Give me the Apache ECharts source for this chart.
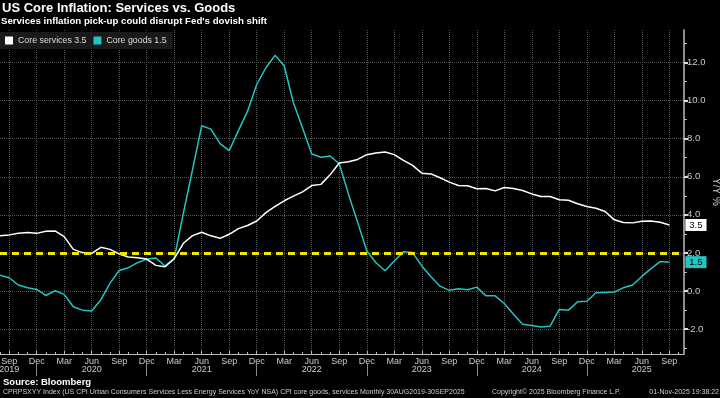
<!DOCTYPE html>
<html>
<head>
<meta charset="utf-8">
<script src="https://cdn.jsdelivr.net/npm/echarts@6/dist/echarts.min.js"></script>
<style>
html, body { margin: 0; padding: 0; background: #000; }
#chart { width: 720px; height: 398px; }
</style>
</head>
<body>
<div id="chart"></div>
<script>
// monthly data, Aug 2019 .. Sep 2025 (index 0 = Aug 2019)
const START_YEAR = 2019
const START_MONTH = 7 // August, 0-based
const MONTH_NAMES = ['Jan', 'Feb', 'Mar', 'Apr', 'May', 'Jun', 'Jul', 'Aug', 'Sep', 'Oct', 'Nov', 'Dec']

const coreServices = [2.91, 2.95, 3.03, 3.07, 3.03, 3.14, 3.16, 2.86, 2.19, 2.02, 1.98, 2.30, 2.19, 1.95, 1.79, 1.75,
  1.68, 1.35, 1.28, 1.70, 2.51, 2.91, 3.09, 2.90, 2.77, 2.98, 3.28, 3.44, 3.68, 4.12, 4.44, 4.74, 4.98, 5.21, 5.54,
  5.60, 6.10, 6.72, 6.79, 6.91, 7.16, 7.25, 7.30, 7.16, 6.86, 6.60, 6.19, 6.15, 5.95, 5.72, 5.54, 5.53, 5.37, 5.38,
  5.26, 5.44, 5.38, 5.28, 5.10, 4.96, 4.96, 4.79, 4.77, 4.58, 4.44, 4.35, 4.18, 3.74, 3.60, 3.58, 3.67, 3.68, 3.61, 3.47]

const coreGoods = [0.84, 0.70, 0.32, 0.18, 0.09, -0.23, 0.02, -0.17, -0.82, -1.00, -1.04, -0.45, 0.42, 1.08, 1.23, 1.49,
  1.68, 1.74, 1.32, 1.70, 4.09, 6.37, 8.68, 8.50, 7.74, 7.37, 8.42, 9.44, 10.84, 11.72, 12.37, 11.81, 9.88, 8.56, 7.19,
  7.02, 7.09, 6.68, 5.10, 3.62, 2.12, 1.49, 1.07, 1.58, 2.06, 2.02, 1.32, 0.75, 0.26, 0.04, 0.12, 0.07, 0.21, -0.25,
  -0.25, -0.65, -1.21, -1.74, -1.81, -1.88, -1.84, -0.96, -1.00, -0.56, -0.53, -0.09, -0.07, -0.05, 0.18, 0.32, 0.77,
  1.18, 1.55, 1.52]

const fedTarget = 2.0
const yTicks = [-2, 0, 2, 4, 6, 8, 10, 12]
const yMinorTicks = [-3, -1, 1, 3, 5, 7, 9, 11, 13]

// x axis: quarter labels, year labels (Sep 2019 then every Jun), year separators at Dec
const quarterIdx = []
const yearLabelIdx = [1]
const yearSepIdx = []
const monthIdx = []
for (let i = 0; i <= coreServices.length; i++) {
  const m = (START_MONTH + i) % 12
  monthIdx.push(i)
  if (m % 3 === 2) quarterIdx.push(i)
  if (m === 5) yearLabelIdx.push(i)
  if (m === 11) yearSepIdx.push(i)
}
const monthName = i => MONTH_NAMES[(START_MONTH + Math.round(i)) % 12]
const yearOf = i => START_YEAR + Math.floor((START_MONTH + Math.round(i)) / 12)

const FONT = 'Liberation Sans, Arial, sans-serif'
const TEAL = '#22c4c4'
const X_MAX = 74.6
const Y_MIN = -3.3
const Y_MAX = 13.7

const chart = echarts.init(document.getElementById('chart'))

const baseX = {
  type: 'value',
  min: 0,
  max: X_MAX,
  position: 'bottom',
  axisLine: { show: false, onZero: false },
  axisTick: { show: false },
  axisLabel: { show: false },
  splitLine: { show: false }
}

const option = {
  backgroundColor: '#000',
  textStyle: { fontFamily: FONT },
  animation: false,
  title: [
    { text: 'US Core Inflation: Services vs. Goods', left: 2, top: 2, padding: 0,
      textStyle: { color: '#fff', fontSize: 13, fontWeight: 'bold', fontFamily: FONT } },
    { text: "Services inflation pick-up could disrupt Fed's dovish shift", left: 1, top: 16, padding: 0,
      textStyle: { color: '#fff', fontSize: 9.7, fontWeight: 'bold', fontFamily: FONT } },
    { text: 'Source: Bloomberg', left: 3, top: 377, padding: 0,
      textStyle: { color: '#fff', fontSize: 9.5, fontWeight: 'bold', fontFamily: FONT } },
    { text: 'CPRPSXYY Index (US CPI Urban Consumers Services Less Energy Services YoY NSA) CPI core goods, services Monthly 30AUG2019-30SEP2025',
      left: 3, top: 389, padding: 0, textStyle: { color: '#ccc', fontSize: 7, fontWeight: 'normal', fontFamily: FONT } },
    { text: 'Copyright\u00a9 2025 Bloomberg Finance L.P.', left: 492, top: 389, padding: 0,
      textStyle: { color: '#ccc', fontSize: 7, fontWeight: 'normal', fontFamily: FONT } },
    { text: '01-Nov-2025 19:38:22', right: 1, top: 389, padding: 0,
      textStyle: { color: '#ccc', fontSize: 7, fontWeight: 'normal', fontFamily: FONT } }
  ],
  legend: {
    left: 0,
    top: 32,
    padding: [4, 6, 4, 5],
    backgroundColor: '#1a1a1a',
    icon: 'rect',
    itemWidth: 8,
    itemHeight: 8,
    itemGap: 7,
    textStyle: { color: '#ddd', fontSize: 8.8, fontFamily: FONT }
  },
  grid: { left: 0, right: 36, top: 30, bottom: 44, outerBoundsMode: 'none' },
  xAxis: [
    Object.assign({}, baseX, {
      axisLine: { show: true, onZero: false, lineStyle: { color: '#bbb', width: 1 } },
      axisTick: { show: true, customValues: quarterIdx, length: 3, inside: true, lineStyle: { color: '#bbb' } },
      axisLabel: { show: true, customValues: quarterIdx, formatter: v => monthName(v), color: '#ccc', fontSize: 9, margin: 3 },
      splitLine: { show: true, lineStyle: { color: '#555', type: 'dotted' } }
    }),
    Object.assign({}, baseX, {
      offset: 10,
      axisTick: { show: true, customValues: yearSepIdx, length: 12, lineStyle: { color: '#888' } },
      axisLabel: { show: true, customValues: yearLabelIdx, formatter: v => String(yearOf(v)), color: '#ccc', fontSize: 9, margin: 1 }
    }),
    Object.assign({}, baseX, {
      axisTick: { show: true, customValues: monthIdx, length: 2, inside: true, lineStyle: { color: '#bbb' } }
    })
  ],
  yAxis: [
    {
      type: 'value',
      position: 'right',
      min: Y_MIN,
      max: Y_MAX,
      name: 'Y/Y %',
      nameLocation: 'middle',
      nameGap: 27,
      nameMoveOverlap: false,
      nameRotate: -90,
      nameTextStyle: { color: '#ccc', fontSize: 10 },
      axisLine: { show: true, onZero: false, lineStyle: { color: '#bbb', width: 1.5 } },
      axisTick: { show: true, customValues: yTicks, length: 4, lineStyle: { color: '#ddd', width: 2 } },
      axisLabel: { customValues: yTicks, formatter: v => v.toFixed(1), color: '#ccc', fontSize: 9.5, margin: 3 },
      splitLine: { show: true, lineStyle: { color: '#555', type: 'dotted' } }
    },
    {
      type: 'value',
      position: 'right',
      offset: 0,
      min: Y_MIN,
      max: Y_MAX,
      axisLine: { show: false, onZero: false },
      axisTick: { show: true, customValues: yMinorTicks, length: 3, lineStyle: { color: '#bbb' } },
      axisLabel: { show: false },
      splitLine: { show: false }
    }
  ],
  series: [
    {
      name: 'Core goods 1.5',
      type: 'line',
      data: coreGoods.map((v, i) => [i, v]),
      showSymbol: false,
      color: TEAL,
      lineStyle: { color: TEAL, width: 1.5 },
      endLabel: {
        show: true,
        formatter: p => p.value[1].toFixed(1),
        distance: 16,
        backgroundColor: TEAL,
        color: '#000',
        padding: [1, 4],
        fontSize: 9.5
      },
      markLine: {
        silent: true,
        symbol: 'none',
        label: { show: false },
        z: 10,
        lineStyle: { color: '#f2e600', type: [7, 5], width: 3 },
        data: [{ yAxis: fedTarget }]
      }
    },
    {
      name: 'Core services 3.5',
      type: 'line',
      data: coreServices.map((v, i) => [i, v]),
      showSymbol: false,
      color: '#fff',
      lineStyle: { color: '#fff', width: 1.5 },
      endLabel: {
        show: true,
        formatter: p => p.value[1].toFixed(1),
        distance: 16,
        backgroundColor: '#fff',
        color: '#000',
        padding: [1, 4],
        fontSize: 9.5
      }
    }
  ]
}
option.legend.data = ['Core services 3.5', 'Core goods 1.5']

chart.setOption(option)
</script>
</body>
</html>
